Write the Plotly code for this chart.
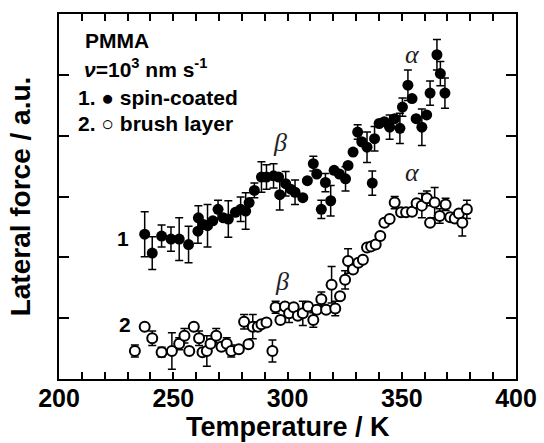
import plotly.graph_objects as go

# Series 1: spin-coated (filled circles)
t_spin = [237.5, 240.8, 244.9, 249.0, 252.6, 256.7, 260.8, 261.0, 263.2, 265.0,
          267.3, 269.6, 271.9, 274.1, 277.2, 279.5, 281.7, 283.2, 285.5, 288.6,
          290.8, 293.9, 296.1, 296.6, 299.2, 301.4, 303.3, 306.7, 308.7, 311.3,
          312.8, 314.8, 316.6, 318.9, 320.4, 322.7, 325.4, 326.5, 328.7, 330.7,
          332.5, 334.8, 337.1, 338.1, 340.1, 342.4, 344.7, 346.9, 349.2, 350.3,
          352.7, 354.5, 356.3, 358.8, 360.9, 362.4, 365.4, 366.9, 368.9]
f_spin = [2.38, 2.07, 2.35, 2.30, 2.30, 2.21, 2.43, 2.65, 2.54, 2.52,
          2.60, 2.79, 2.65, 2.63, 2.74, 2.79, 2.76, 2.90, 3.10, 3.32,
          3.32, 3.34, 3.32, 3.03, 3.21, 3.12, 3.07, 2.98, 3.26, 3.54,
          3.37, 2.79, 3.23, 2.93, 3.43, 3.37, 3.29, 3.51, 3.73, 4.06,
          3.90, 3.81, 3.22, 3.95, 4.20, 4.23, 4.14, 4.28, 4.12, 4.47,
          4.83, 4.61, 4.28, 4.14, 4.34, 4.70, 5.33, 5.02, 4.70]
e_spin = [0.37, 0.27, 0.18, 0.20, 0.35, 0.30, 0.20, 0.20, 0.0, 0.35,
          0.0, 0.15, 0.0, 0.30, 0.0, 0.20, 0.30, 0.0, 0.12, 0.25,
          0.20, 0.20, 0.0, 0.25, 0.20, 0.0, 0.20, 0.0, 0.0, 0.12,
          0.0, 0.15, 0.15, 0.25, 0.0, 0.0, 0.20, 0.0, 0.0, 0.12,
          0.0, 0.25, 0.20, 0.20, 0.0, 0.0, 0.20, 0.0, 0.25, 0.15,
          0.25, 0.0, 0.0, 0.30, 0.0, 0.20, 0.25, 0.20, 0.25]

# Series 2: brush layer (open circles)
t_brush = [233.2, 237.5, 240.8, 244.9, 249.4, 252.6, 254.9, 257.0, 259.0, 261.3,
           262.8, 264.7, 266.3, 268.8, 271.1, 273.4, 275.4, 278.7, 281.0, 282.9,
           284.8, 287.0, 288.6, 290.8, 293.4, 294.8, 296.9, 298.9, 300.7, 302.7,
           304.5, 306.7, 309.0, 311.3, 312.8, 314.8, 316.9, 319.3, 320.9, 323.0,
           325.2, 326.5, 328.7, 331.0, 333.0, 334.8, 336.6, 338.6, 340.6, 342.4,
           344.7, 346.9, 349.7, 351.9, 354.5, 356.5, 358.8, 361.0, 362.4, 364.4,
           366.6, 369.2, 371.2, 373.2, 375.0, 376.5, 378.5]
f_brush = [0.46, 0.86, 0.67, 0.44, 0.46, 0.58, 0.71, 0.46, 0.86, 0.67,
           0.44, 0.46, 0.58, 0.71, 0.53, 0.58, 0.46, 0.49, 0.94, 0.57,
           0.86, 0.86, 0.90, 0.93, 0.46, 1.18, 0.97, 1.19, 1.08, 1.18,
           1.04, 1.08, 1.19, 0.97, 1.14, 1.31, 1.14, 1.55, 1.16, 1.36,
           1.63, 1.94, 1.80, 1.91, 1.96, 2.16, 2.18, 2.21, 2.35, 2.57,
           2.63, 2.90, 2.74, 2.74, 2.75, 2.89, 2.85, 2.97, 2.57, 2.90,
           2.68, 2.87, 2.66, 2.64, 2.72, 2.57, 2.79]
e_brush = [0.10, 0.0, 0.12, 0.08, 0.30, 0.10, 0.12, 0.0, 0.0, 0.12,
           0.0, 0.25, 0.0, 0.12, 0.0, 0.10, 0.10, 0.0, 0.12, 0.0,
           0.20, 0.0, 0.0, 0.0, 0.18, 0.10, 0.0, 0.0, 0.15, 0.0,
           0.0, 0.20, 0.0, 0.12, 0.0, 0.12, 0.0, 0.30, 0.12, 0.0,
           0.15, 0.20, 0.0, 0.0, 0.0, 0.0, 0.0, 0.0, 0.0, 0.0,
           0.0, 0.10, 0.0, 0.0, 0.0, 0.0, 0.20, 0.12, 0.0, 0.25,
           0.12, 0.10, 0.0, 0.0, 0.0, 0.22, 0.15]

x_tickvals = [200, 250, 300, 350, 400]

SANS = "Liberation Sans, Arial, sans-serif"
SERIF = "Liberation Serif, Times New Roman, serif"

fig = go.Figure()
fig.add_trace(go.Scatter(
    x=t_spin, y=f_spin, mode="markers", name="spin-coated",
    marker=dict(symbol="circle", size=11, color="black", line=dict(width=0)),
    error_y=dict(type="data", array=e_spin, visible=True, color="black",
                 thickness=1.5, width=4),
))
fig.add_trace(go.Scatter(
    x=t_brush, y=f_brush, mode="markers", name="brush layer",
    marker=dict(symbol="circle", size=10, color="white",
                line=dict(width=2, color="black")),
    error_y=dict(type="data", array=e_brush, visible=True, color="black",
                 thickness=1.5, width=4),
))

txt = dict(showarrow=False, xref="x", yref="y", font=dict(family=SANS, size=21, color="black", weight="bold"))
annos = [
    dict(x=210.5, y=5.56, text="PMMA", xanchor="left", **txt),
    dict(x=210.0, y=5.12, text="<i>ν</i>=10<sup>3</sup> nm s<sup>-1</sup>", xanchor="left", **txt),
    dict(x=207.5, y=4.62, text="1. ● spin-coated", xanchor="left", **txt),
    dict(x=207.5, y=4.20, text="2. ○ brush layer", xanchor="left", **txt),
    dict(x=228.1, y=2.31, text="1", xanchor="center", **txt),
    dict(x=228.9, y=0.89, text="2", xanchor="center", **txt),
]
gk = dict(showarrow=False, xref="x", yref="y", font=dict(family=SERIF, size=26, color="#222"))
annos += [
    dict(x=354.9, y=5.33, text="<i>α</i>", **gk),
    dict(x=354.5, y=3.39, text="<i>α</i>", **gk),
    dict(x=296.7, y=3.88, text="<i>β</i>", **gk),
    dict(x=297.6, y=1.60, text="<i>β</i>", **gk),
]
# x-axis title placed as a paper-anchored text below the tick labels
annos.append(dict(x=0.5, y=-0.131, xref="paper", yref="paper", showarrow=False,
                  text="Temperature / K", xanchor="center", yanchor="middle",
                  font=dict(family=SANS, size=27, color="black", weight="bold")))

fig.update_layout(
    width=544, height=443,
    margin=dict(l=59, r=28, t=14, b=64),
    paper_bgcolor="white", plot_bgcolor="white",
    showlegend=False,
    annotations=annos,
    font=dict(family=SANS, color="black"),
)
fig.update_xaxes(
    range=[200, 400], tickvals=x_tickvals, ticks="inside", ticklen=7, tickwidth=1.5,
    tickcolor="black", minor=dict(dtick=10, ticks="inside", ticklen=7, tickwidth=1.5, tickcolor="black"),
    showline=True, linewidth=2, linecolor="black", mirror="ticks", showgrid=False, zeroline=False,
    tickfont=dict(family=SANS, size=25, weight="bold"),
    ticklabelstandoff=-4, automargin=False,
)
fig.update_yaxes(
    range=[0, 6], tickvals=[1, 2, 3, 4, 5], ticks="inside", ticklen=10, tickwidth=1.5, tickcolor="black",
    showticklabels=False, automargin=False,
    showline=True, linewidth=2, linecolor="black", mirror="ticks", showgrid=False, zeroline=False,
    title=dict(text="Lateral force / a.u.", font=dict(family=SANS, size=28, weight="bold"), standoff=18),
)

fig.write_html("out.html")
